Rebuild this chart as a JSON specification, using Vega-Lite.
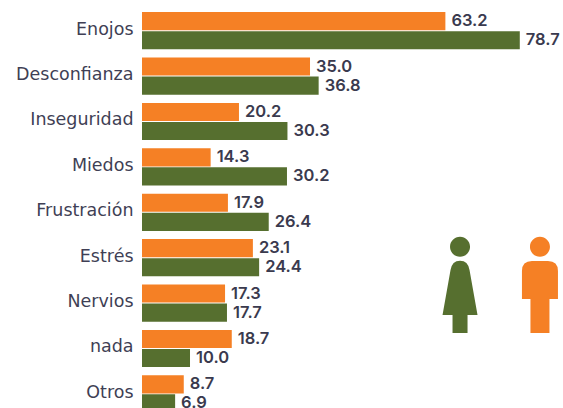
{"$schema":"https://vega.github.io/schema/vega-lite/v6.json","width":421,"height":408.6,"autosize":{"type":"none"},"padding":{"left":142,"top":8,"right":0,"bottom":0},"background":"white","config":{"view":{"stroke":null}},
"data":{"values":[
{"c":"Enojos","g":"Hombres","v":63.2},{"c":"Enojos","g":"Mujeres","v":78.7},
{"c":"Desconfianza","g":"Hombres","v":35.0},{"c":"Desconfianza","g":"Mujeres","v":36.8},
{"c":"Inseguridad","g":"Hombres","v":20.2},{"c":"Inseguridad","g":"Mujeres","v":30.3},
{"c":"Miedos","g":"Hombres","v":14.3},{"c":"Miedos","g":"Mujeres","v":30.2},
{"c":"Frustración","g":"Hombres","v":17.9},{"c":"Frustración","g":"Mujeres","v":26.4},
{"c":"Estrés","g":"Hombres","v":23.1},{"c":"Estrés","g":"Mujeres","v":24.4},
{"c":"Nervios","g":"Hombres","v":17.3},{"c":"Nervios","g":"Mujeres","v":17.7},
{"c":"nada","g":"Hombres","v":18.7},{"c":"nada","g":"Mujeres","v":10.0},
{"c":"Otros","g":"Hombres","v":8.7},{"c":"Otros","g":"Mujeres","v":6.9}]},
"encoding":{
"y":{"field":"c","type":"nominal","sort":null,"title":null,"scale":{"paddingInner":0.18,"paddingOuter":0.09},"axis":{"domain":false,"ticks":false,"labelPadding":9,"labelFont":"DejaVu Sans","labelFontSize":17.5,"labelFontWeight":400,"labelColor":"#3f3f55","labelOffset":-1}},
"x":{"field":"v","type":"quantitative","title":null,"scale":{"domain":[0,87.7]},"axis":null}},
"layer":[
{"mark":{"type":"bar"},"encoding":{"yOffset":{"field":"g","sort":["Hombres","Mujeres"],"scale":{"paddingInner":0.05}},"color":{"field":"g","type":"nominal","legend":null,"scale":{"domain":["Hombres","Mujeres"],"range":["#F58025","#566F2F"]}}}},
{"mark":{"type":"text","align":"left","dx":6,"font":"Inter","fontSize":16.5,"fontWeight":600,"color":"#3a3a4e"},"encoding":{"yOffset":{"field":"g","sort":["Hombres","Mujeres"],"scale":{"paddingInner":0.05}},"text":{"field":"v","type":"quantitative","format":".1f"}}},
{"data":{"values":[{"c":"Nervios","g":"Mujeres","v":66.25},{"c":"Nervios","g":"Hombres","v":82.9}]},
"mark":{"type":"point","filled":true,"opacity":1,"size":4},
"encoding":{"color":{"field":"g","type":"nominal","legend":null},
"shape":{"field":"g","type":"nominal","legend":null,"scale":{"domain":["Hombres","Mujeres"],"range":["M-9.5 30V-4H-18V-32Q-18-42-8-42H8Q18-42 18-32V-4H9.5V30ZM10-56.3A10 10 0 1 1-10-56.3A10 10 0 1 1 10-56.3Z","M-7.5 30V12H-17.5L-9.5-33Q-8-42.3 0-42.3Q8-42.3 9.5-33L17.5 12H7.5V30ZM10-56.3A10 10 0 1 1-10-56.3A10 10 0 1 1 10-56.3Z"]}}}}
]}
